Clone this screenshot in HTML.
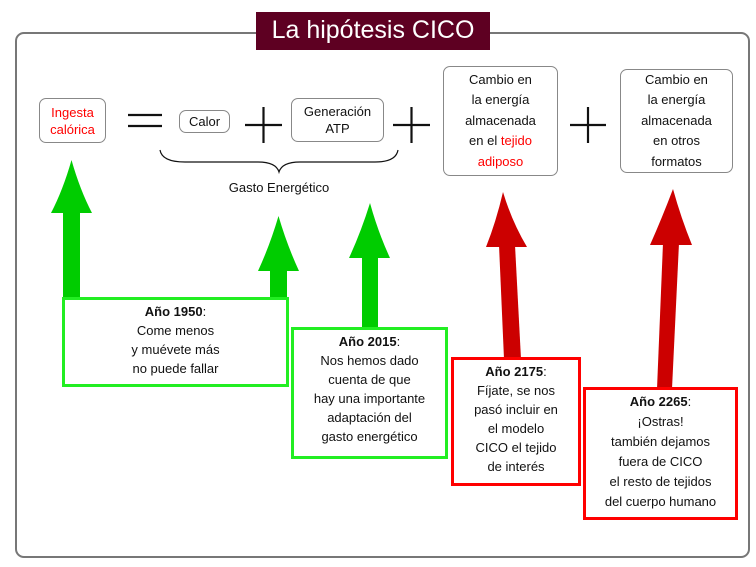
<!DOCTYPE html>
<html><head><meta charset="utf-8"><style>
body{margin:0;width:756px;height:567px;background:#fff;position:relative;overflow:hidden;font-family:"Liberation Sans",sans-serif;color:#111}
.t{position:absolute;text-align:center;font-size:13px;line-height:19px}
.b{position:absolute;border:1px solid #888;border-radius:7px;box-sizing:border-box;display:flex;align-items:center;justify-content:center;text-align:center;font-size:13px;line-height:17px}
.g{position:absolute;box-sizing:border-box;background:#fff;text-align:center;font-size:13px;line-height:19px;padding-top:2px}
.r{color:#f00}
</style></head><body>
<svg width="756" height="567" style="position:absolute;left:0;top:0">
<rect x="16" y="33" width="733" height="524" rx="8" fill="none" stroke="#777" stroke-width="2"/>
<rect x="256" y="12" width="234" height="38" fill="#5e0022"/>
<g stroke="#111" stroke-width="2.2">
<line x1="128" y1="115" x2="162" y2="115"/><line x1="128" y1="126" x2="162" y2="126"/>
<line x1="245" y1="125" x2="282" y2="125"/><line x1="263.5" y1="107" x2="263.5" y2="143"/>
<line x1="393" y1="125" x2="430" y2="125"/><line x1="411.5" y1="107" x2="411.5" y2="143"/>
<line x1="570" y1="125" x2="606" y2="125"/><line x1="588" y1="107" x2="588" y2="143"/>
</g>
<path d="M160 150 Q162 162 185 162 L258 162 Q276 162 279 172 Q282 162 300 162 L375 162 Q396 162 398 150" fill="none" stroke="#111" stroke-width="1.2"/>
<g fill="#00cc00">
<rect x="63" y="210" width="17" height="90"/><path d="M71.5 160 Q80 190 92 213 L51 213 Q63 190 71.5 160Z"/>
<rect x="270" y="268" width="17" height="32"/><path d="M278.5 216 Q287 245 299 271 L258 271 Q270 245 278.5 216Z"/>
<rect x="362" y="255" width="16" height="74"/><path d="M370 203 Q378 232 390 258 L349 258 Q361 232 370 203Z"/>
</g>
<g fill="#cc0000">
<path d="M499 245 L515 245 L521 359 L504 359Z"/><path d="M503 192 Q512 222 527 247 L486 247 Q496 222 503 192Z"/>
<path d="M663 243 L679 243 L672 389 L657 389Z"/><path d="M673 189 Q681 218 692 245 L650 245 Q662 218 673 189Z"/>
</g>
</svg>
<div class="t" style="left:256px;top:12px;width:234px;height:38px;line-height:36px;color:#fff;font-size:25px">La hipótesis CICO</div>
<div class="b r" style="left:39px;top:98px;width:67px;height:45px"><div>Ingesta<br>calórica</div></div>
<div class="b" style="left:179px;top:110px;width:51px;height:23px"><div>Calor</div></div>
<div class="b" style="left:291px;top:98px;width:93px;height:44px"><div>Generación<br>ATP</div></div>
<div class="b" style="left:443px;top:66px;width:115px;height:110px;line-height:20.5px"><div>Cambio en<br>la energía<br>almacenada<br>en el <span class="r">tejido</span><br><span class="r">adiposo</span></div></div>
<div class="b" style="left:620px;top:69px;width:113px;height:104px;line-height:20.5px"><div>Cambio en<br>la energía<br>almacenada<br>en otros<br>formatos</div></div>
<div class="t" style="left:180px;top:178px;width:198px">Gasto Energético</div>
<div class="g" style="left:62px;top:297px;width:227px;height:90px;border:3px solid #22ee22"><b>Año 1950</b>:<br>Come menos<br>y muévete más<br>no puede fallar</div>
<div class="g" style="left:291px;top:327px;width:157px;height:132px;border:3px solid #22ee22"><b>Año 2015</b>:<br>Nos hemos dado<br>cuenta de que<br>hay una importante<br>adaptación del<br>gasto energético</div>
<div class="g" style="left:451px;top:357px;width:130px;height:129px;border:3px solid #f00"><b>Año 2175</b>:<br>Fíjate, se nos<br>pasó incluir en<br>el modelo<br>CICO el tejido<br>de interés</div>
<div class="g" style="left:583px;top:387px;width:155px;height:133px;border:3px solid #f00;line-height:20px"><b>Año 2265</b>:<br>¡Ostras!<br>también dejamos<br>fuera de CICO<br>el resto de tejidos<br>del cuerpo humano</div>
</body></html>
